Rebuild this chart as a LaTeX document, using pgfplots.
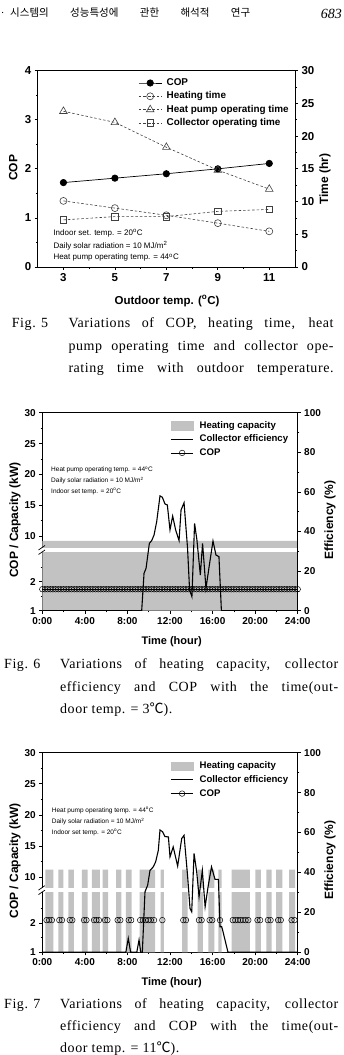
\documentclass[border=0pt]{standalone}
\usepackage{fontspec}
\setmainfont{DejaVu Serif}
\setsansfont{Liberation Sans}
\newfontfamily\kr{Noto Sans CJK KR}
\newfontfamily\lserif{Liberation Serif}
\newfontfamily\capfont[LetterSpace=4]{Liberation Serif}
\usepackage{pgfplots}
\pgfplotsset{compat=1.18}
\newcommand{\fs}[1]{\fontsize{#1}{#1}\selectfont}
\newcommand{\degc}{{\kr ℃}}
\newcommand{\capl}[4]{\node[anchor=west,inner sep=0pt,font=\capfont\fs{14}] at (#1pt,#2pt) {\makebox[#3pt][s]{#4}};}
\newcommand{\capn}[3]{\node[anchor=west,inner sep=0pt,font=\capfont\fs{14}] at (#1pt,#2pt) {#3};}
\pgfplotsset{
  base/.style={scale only axis, anchor=south west, tick align=outside,
    major tick length=3pt, minor tick length=1.6pt,
    axis line style={line width=0.8pt},
    major tick style={line width=0.7pt, black},
    minor tick style={line width=0.6pt, black},
    /pgf/number format/assume math mode=true,
    tick label style={font=\sffamily\bfseries\fs{10}}},
  lgd/.style={legend image code/.code={\draw[mark repeat=2,mark phase=2,##1] plot coordinates {(0pt,0pt) (11.35pt,0pt) (22.7pt,0pt)};}},
  brk/.style={y filter/.expression={y<5 ? (y-1)*14.65 : 37.7+(y-10)*3.115}},
  dsh/.style={black!75, line width=0.6pt, dash pattern=on 2.5pt off 2pt, mark options={solid, fill=white, line width=0.6pt}},
}
\begin{document}
\begin{tikzpicture}[x=1pt,y=1pt]
\useasboundingbox (0,0) rectangle (343,1055);
% header
\node[anchor=west,inner sep=0pt,font=\fs{10}] at (1pt,1042pt) {.};
\node[anchor=west,inner sep=0pt,font=\kr\fs{10.5}] at (10pt,1042pt) {\makebox[240pt][s]{시스템의 성능특성에 관한 해석적 연구}};
\node[anchor=east,inner sep=0pt,font=\lserif\itshape\fs{14}] at (342pt,1041pt) {683};

% ================= Fig 5 =================
\begin{axis}[base, at={(37.7pt,788pt)}, width=257.3pt, height=196.3pt,
  xmin=2, xmax=12, ymin=0, ymax=4,
  xtick={3,5,7,9,11}, minor xtick={4,6,8,10},
  ytick={0,1,2,3,4}, minor ytick={0.5,1.5,2.5,3.5},
  xtick pos=left, ytick pos=left,
  tick label style={font=\sffamily\bfseries\fs{11.5}}]
\addplot[black, line width=0.7pt, mark=*, mark size=3.2pt] coordinates {(3,1.72) (5,1.81) (7,1.90) (9,2.00) (11,2.11)};
\end{axis}
\begin{axis}[base, lgd, at={(37.7pt,788pt)}, width=257.3pt, height=196.3pt,
  xmin=2, xmax=12, ymin=0, ymax=30,
  axis x line=none, axis y line*=right,
  ytick={0,5,...,30}, minor ytick={2.5,7.5,...,27.5},
  tick label style={font=\sffamily\bfseries\fs{11.5}},
  legend cell align=left,
  legend style={draw=none, fill=none, inner sep=0pt, at={(0.391,0.962)}, anchor=north west,
    font=\sffamily\bfseries\fs{9.9}, row sep=4pt, column sep=4.7pt,
    nodes={inner sep=0pt, text height=7.2pt, text depth=2.1pt}}]
\addlegendimage{black, line width=0.7pt, mark=*, mark size=3.2pt}
\addlegendentry{COP}
\addplot[dsh, mark=o, mark size=3.5pt] coordinates {(3,10.1) (5,9.0) (7,7.9) (9,6.7) (11,5.45)};
\addlegendentry{Heating time}
\addplot[dsh, mark=triangle, mark size=4.4pt] coordinates {(3,23.8) (5,22.1) (7,18.3) (9,14.8) (11,11.9)};
\addlegendentry{Heat pump operating time}
\addplot[dsh, mark=square, mark size=3.2pt] coordinates {(3,7.2) (5,7.7) (7,7.7) (9,8.5) (11,8.8)};
\addlegendentry{Collector operating time}
\end{axis}
\node[font=\sffamily\bfseries\fs{12}, rotate=90] at (13.3pt,887pt) {COP};
\node[font=\sffamily\bfseries\fs{12}, rotate=90] at (325pt,876pt) {Time (hr)};
\node[font=\sffamily\bfseries\fs{11.5}] at (167pt,754pt) {Outdoor temp. (\textsuperscript{o}C)};
\node[anchor=west,inner sep=0pt,font=\sffamily\fs{8}] at (53.3pt,822pt) {Indoor set. temp. = 20\textsuperscript{o}C};
\node[anchor=west,inner sep=0pt,font=\sffamily\fs{8}] at (53.3pt,809.5pt) {Daily solar radiation = 10 MJ/m\textsuperscript{2}};
\node[anchor=west,inner sep=0pt,font=\sffamily\fs{8}] at (53.3pt,797.3pt) {Heat pump operating temp. = 44\textsuperscript{o}C};
% caption 5
\capn{11.7}{731}{Fig. 5}
\capl{68.3}{731}{265}{Variations of COP, heating time, heat}
\capl{68.3}{708.3}{265}{pump operating time and collector ope-}
\capl{68.3}{685.7}{265}{rating time with outdoor temperature.}

% ================= Fig 6 =================
\begin{axis}[base, at={(42.3pt,444.3pt)}, width=255.4pt, height=198pt,
  xmin=0, xmax=24, ymin=0, ymax=100, clip=false,
  xtick={0,4,...,24}, xticklabels={0:00,4:00,8:00,12:00,16:00,20:00,24:00},
  minor xtick={2,6,...,22},
  ytick={0,14.65,37.7,53.3,68.85,84.4,100}, yticklabels={1,2,10,15,20,25,30},
  minor ytick={7.3,22,45.5,61.1,76.6,92.2},
  xtick pos=left, ytick pos=left]
\addplot[brk, const plot, fill=gray!48, draw=none] coordinates {(0,1) (0,9.23) (24,9.23) (24,1)};
\addplot[brk, black, line width=0.5pt, mark=o, mark size=2.8pt, mark options={fill=white}] coordinates {(0,1.74)(0.25,1.74)(0.5,1.74)(0.75,1.74)(1,1.74)(1.25,1.74)(1.5,1.74)(1.75,1.74)(2,1.74)(2.25,1.74)(2.5,1.74)(2.75,1.74)(3,1.74)(3.25,1.74)(3.5,1.74)(3.75,1.74)(4,1.74)(4.25,1.74)(4.5,1.74)(4.75,1.74)(5,1.74)(5.25,1.74)(5.5,1.74)(5.75,1.74)(6,1.74)(6.25,1.74)(6.5,1.74)(6.75,1.74)(7,1.74)(7.25,1.74)(7.5,1.74)(7.75,1.74)(8,1.74)(8.25,1.74)(8.5,1.74)(8.75,1.74)(9,1.74)(9.25,1.74)(9.5,1.74)(9.75,1.74)(10,1.74)(10.25,1.74)(10.5,1.74)(10.75,1.74)(11,1.74)(11.25,1.74)(11.5,1.74)(11.75,1.74)(12,1.74)(12.25,1.74)(12.5,1.74)(12.75,1.74)(13,1.74)(13.25,1.74)(13.5,1.74)(13.75,1.74)(14,1.74)(14.25,1.74)(14.5,1.74)(14.75,1.74)(15,1.74)(15.25,1.74)(15.5,1.74)(15.75,1.74)(16,1.74)(16.25,1.74)(16.5,1.74)(16.75,1.74)(17,1.74)(17.25,1.74)(17.5,1.74)(17.75,1.74)(18,1.74)(18.25,1.74)(18.5,1.74)(18.75,1.74)(19,1.74)(19.25,1.74)(19.5,1.74)(19.75,1.74)(20,1.74)(20.25,1.74)(20.5,1.74)(20.75,1.74)(21,1.74)(21.25,1.74)(21.5,1.74)(21.75,1.74)(22,1.74)(22.25,1.74)(22.5,1.74)(22.75,1.74)(23,1.74)(23.25,1.74)(23.5,1.74)(23.75,1.74)(24,1.74)};
\end{axis}
\fill[white] (38pt,503.3pt) rectangle (297pt,506.7pt);
\draw[line width=0.7pt] (38.5pt,500.5pt) -- (45pt,505pt);
\draw[line width=0.7pt] (38.5pt,505pt) -- (45pt,509.5pt);
\begin{axis}[base, lgd, at={(42.3pt,444.3pt)}, width=255.4pt, height=198pt,
  xmin=0, xmax=24, ymin=0, ymax=100,
  axis x line=none, axis y line*=right,
  ytick={0,20,...,100}, minor ytick={10,30,...,90},
  legend cell align=left,
  legend style={draw=none, fill=none, inner sep=0pt, at={(0.5,0.959)}, anchor=north west,
    font=\sffamily\bfseries\fs{9.6}, row sep=4.7pt, column sep=5.6pt,
    nodes={inner sep=0pt, text height=7pt, text depth=2pt}}]
\addlegendimage{legend image code/.code={\fill[gray!48] (0pt,-4.2pt) rectangle (22.7pt,4.2pt);}}
\addlegendentry{Heating capacity}
\addplot[black, line width=1.1pt] coordinates {(0,0) (9.34,0) (9.56,18.9) (9.75,21.4) (10.06,34) (10.28,35.4) (10.5,38.2) (10.75,45) (11.06,58) (11.28,57.3) (11.53,53.9) (11.75,53.4) (12.0,40.8) (12.25,47.8) (12.53,40.8) (12.85,35.4) (13.04,50.9) (13.32,54.5) (13.65,31.5) (13.84,10.5) (14.06,7.1) (14.31,44.1) (14.53,35.7) (14.85,18) (15.06,34) (15.38,11.3) (15.7,23.1) (16.04,35.2) (16.32,28.1) (16.6,27.3) (16.83,0) (24,0)};
\addlegendentry{Collector efficiency}
\addlegendimage{black, line width=0.5pt, mark=o, mark size=2.8pt, mark options={fill=white}}
\addlegendentry{COP}
\end{axis}
\node[font=\sffamily\bfseries\fs{12}, rotate=90] at (15pt,535pt) {COP / Capacity (kW)};
\node[font=\sffamily\bfseries\fs{12}, rotate=90] at (330pt,535pt) {Efficiency (\%)};
\node[font=\sffamily\bfseries\fs{11}] at (171.7pt,413.3pt) {Time (hour)};
\node[anchor=west,inner sep=0pt,font=\sffamily\fs{6.5}] at (51pt,585pt) {Heat pump operating temp. = 44\textsuperscript{o}C};
\node[anchor=west,inner sep=0pt,font=\sffamily\fs{6.5}] at (51pt,574.3pt) {Daily solar radiation = 10 MJ/m\textsuperscript{2}};
\node[anchor=west,inner sep=0pt,font=\sffamily\fs{6.5}] at (51pt,563.3pt) {Indoor set temp. = 20\textsuperscript{o}C};
% caption 6
\capn{4}{390}{Fig. 6}
\capl{60}{390}{278}{Variations of heating capacity, collector}
\capl{60}{367.3}{278}{efficiency and COP with the time(out-}
\capn{60}{345}{door temp. = 3\degc).}

% ================= Fig 7 =================
\begin{axis}[base, at={(42.3pt,102.7pt)}, width=255.4pt, height=199.6pt,
  xmin=0, xmax=24, ymin=0, ymax=100, clip=false,
  xtick={0,4,...,24}, xticklabels={0:00,4:00,8:00,12:00,16:00,20:00,24:00},
  minor xtick={2,6,...,22},
  ytick={0,14.65,37.7,53.3,68.85,84.4,100}, yticklabels={1,2,10,15,20,25,30},
  minor ytick={7.3,22,45.5,61.1,76.6,92.2},
  xtick pos=left, ytick pos=left]
\addplot[brk, const plot, fill=gray!48, draw=none] coordinates {(0,1)(0.30,11.2)(1.03,1)(1.50,11.2)(1.97,1)(2.46,11.2)(2.97,1)(3.71,11.2)(4.26,1)(4.65,11.2)(5.41,1)(5.66,11.2)(6.19,1)(6.94,11.2)(7.44,1)(7.86,11.2)(8.40,1)(9.15,11.2)(10.60,1)(11.13,11.2)(11.43,1)(13.15,11.2)(13.65,1)(14.60,11.2)(15.10,1)(15.60,11.2)(16.17,1)(16.55,11.2)(16.86,1)(17.80,11.2)(19.50,1)(20.02,11.2)(20.53,1)(21.05,11.2)(21.56,1)(21.98,11.2)(22.56,1)(23.20,11.2)(23.75,1)(24,1)};
\addplot[brk, only marks, black, line width=0.5pt, mark=o, mark size=2.8pt, mark options={fill=white}] coordinates {(0.4,2.1)(0.64,2.1)(0.9,2.1)(1.6,2.1)(1.85,2.1)(2.58,2.1)(2.82,2.1)(3.92,2.1)(4.15,2.1)(4.86,2.1)(5.08,2.1)(5.32,2.1)(5.9,2.1)(6.12,2.1)(7.08,2.1)(7.33,2.1)(8.12,2.1)(8.35,2.1)(9.2,2.1)(9.45,2.1)(9.7,2.1)(9.96,2.1)(10.2,2.1)(10.5,2.1)(11.28,2.1)(13.25,2.1)(13.5,2.1)(14.72,2.1)(14.97,2.1)(15.72,2.1)(15.97,2.1)(16.7,2.1)(17.9,2.1)(18.14,2.1)(18.38,2.1)(18.62,2.1)(18.86,2.1)(19.1,2.1)(19.36,2.1)(20.22,2.1)(20.47,2.1)(21.2,2.1)(21.45,2.1)(22.16,2.1)(22.41,2.1)(23.42,2.1)(23.7,2.1)};
\end{axis}
\fill[white] (38pt,163.2pt) rectangle (297pt,166.6pt);
\draw[line width=0.7pt] (38.5pt,160.4pt) -- (45pt,164.9pt);
\draw[line width=0.7pt] (38.5pt,164.9pt) -- (45pt,169.4pt);
\begin{axis}[base, lgd, at={(42.3pt,102.7pt)}, width=255.4pt, height=199.6pt,
  xmin=0, xmax=24, ymin=0, ymax=100,
  axis x line=none, axis y line*=right,
  ytick={0,20,...,100}, minor ytick={10,30,...,90},
  legend cell align=left,
  legend style={draw=none, fill=none, inner sep=0pt, at={(0.5,0.956)}, anchor=north west,
    font=\sffamily\bfseries\fs{9.6}, row sep=4.7pt, column sep=5.6pt,
    nodes={inner sep=0pt, text height=7pt, text depth=2pt}}]
\addlegendimage{legend image code/.code={\fill[gray!48] (0pt,-4.2pt) rectangle (22.7pt,4.2pt);}}
\addlegendentry{Heating capacity}
\addplot[black, line width=1.1pt] coordinates {(0,0) (7.85,0) (8.08,7) (8.3,0) (8.88,0) (9.09,6.2) (9.25,0) (9.4,0) (9.65,30.3) (9.9,33.6) (10.12,41) (10.43,42.8) (10.65,45.3) (10.9,51) (11.06,61.3) (11.3,60.4) (11.53,58) (11.85,57.8) (12.0,47.8) (12.3,52.8) (12.72,43.2) (13.1,57) (13.32,58.6) (13.66,37.8) (13.88,22) (14.04,20.3) (14.26,49.5) (14.51,40.3) (14.73,27.8) (15.04,41) (15.3,22.8) (15.6,33.6) (15.9,42.8) (16.23,36.5) (16.55,36.5) (16.7,12.8) (16.86,12.8) (16.95,11) (17.45,0) (24,0)};
\addlegendentry{Collector efficiency}
\addlegendimage{black, line width=0.5pt, mark=o, mark size=2.8pt, mark options={fill=white}}
\addlegendentry{COP}
\end{axis}
\node[font=\sffamily\bfseries\fs{12}, rotate=90] at (15pt,194.3pt) {COP / Capacity (kW)};
\node[font=\sffamily\bfseries\fs{12}, rotate=90] at (330pt,195pt) {Efficiency (\%)};
\node[font=\sffamily\bfseries\fs{11}] at (171.7pt,72.3pt) {Time (hour)};
\node[anchor=west,inner sep=0pt,font=\sffamily\fs{6.5}] at (51.7pt,244.3pt) {Heat pump operating temp. = 44\textsuperscript{o}C};
\node[anchor=west,inner sep=0pt,font=\sffamily\fs{6.5}] at (51.7pt,233.3pt) {Daily solar radiation = 10 MJ/m\textsuperscript{2}};
\node[anchor=west,inner sep=0pt,font=\sffamily\fs{6.5}] at (51.7pt,222.3pt) {Indoor set temp. = 20\textsuperscript{o}C};
% caption 7
\capn{4}{50}{Fig. 7}
\capl{60}{50}{278}{Variations of heating capacity, collector}
\capl{60}{28.3}{278}{efficiency and COP with the time(out-}
\capn{60}{6.7}{door temp. = 11\degc).}
\end{tikzpicture}
\end{document}
